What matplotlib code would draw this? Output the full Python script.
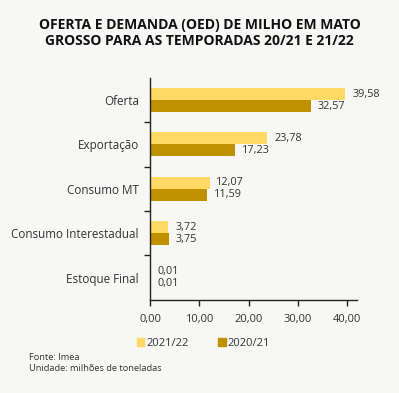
import numpy as np
import matplotlib.pyplot as plt
from matplotlib.patches import Patch

plt.rcParams['font.family'] = ['Open Sans', 'DejaVu Sans']

categories = ['Oferta', 'Exportação', 'Consumo MT', 'Consumo Interestadual', 'Estoque Final']
v_2122 = [39.58, 23.78, 12.07, 3.72, 0.01]
v_2021 = [32.57, 17.23, 11.59, 3.75, 0.01]
series_names = ['2021/22', '2020/21']
xticks = [0, 10, 20, 30, 40]

light = '#FFD966'
dark = '#BF9000'
txt = '#333333'
bg = '#F7F7F5'

fig = plt.figure(figsize=(3.99, 3.93), dpi=100, facecolor=bg)
ax = fig.add_axes([0.376, 0.237, 0.519, 0.565], facecolor=bg)

y = np.arange(len(categories))
h = 0.27
b1 = ax.barh(y - h / 2, v_2122, height=h, color=light, label=series_names[0])
b2 = ax.barh(y + h / 2, v_2021, height=h, color=dark, label=series_names[1])

for yy, v in zip(y, v_2122):
    ax.annotate(f'{v:.2f}'.replace('.', ','), (v, yy - h / 2), xytext=(5, 0),
                textcoords='offset points', va='center', ha='left', fontsize=7.8, color=txt)
for yy, v in zip(y, v_2021):
    ax.annotate(f'{v:.2f}'.replace('.', ','), (v, yy + h / 2), xytext=(5, 0),
                textcoords='offset points', va='center', ha='left', fontsize=7.8, color=txt)

ax.set_ylim(4.5, -0.5)
ax.set_xlim(0, 42)
ax.set_yticks(y)
ax.set_yticklabels(categories, fontsize=8.4, color=txt)
ax.set_yticks([0.5, 1.5, 2.5, 3.5], minor=True)
ax.tick_params(axis='y', which='major', length=0, pad=8)
ax.tick_params(axis='y', which='minor', length=4, width=1, color='#222222')
ax.set_xticks(xticks)
ax.set_xticklabels([f'{t:.2f}'.replace('.', ',') for t in xticks], fontsize=8, color=txt)
ax.tick_params(axis='x', length=4, width=1, color='#222222', pad=6)
for s in ['top', 'right']:
    ax.spines[s].set_visible(False)
for s in ['left', 'bottom']:
    ax.spines[s].set_color('#222222')
    ax.spines[s].set_linewidth(1)

fig.text(0.5, 0.955, 'OFERTA E DEMANDA (OED) DE MILHO EM MATO\nGROSSO PARA AS TEMPORADAS 20/21 E 21/22',
         ha='center', va='top', fontsize=10, fontweight='bold', color='#111111', linespacing=1.2)

handles = [Patch(color=light), Patch(color=dark)]
fig.legend(handles, series_names, loc='center', bbox_to_anchor=(0.51, 0.127), ncol=2,
           frameon=False, fontsize=8, handlelength=0.7, handleheight=0.7, handletextpad=0.2,
           columnspacing=2.6, labelcolor=txt)

fig.text(0.073, 0.077, 'Fonte: Imea\nUnidade: milhões de toneladas', ha='left', va='center',
         fontsize=6.7, color=txt, linespacing=1.3)

fig.savefig('out.png', dpi=100, facecolor=bg)
